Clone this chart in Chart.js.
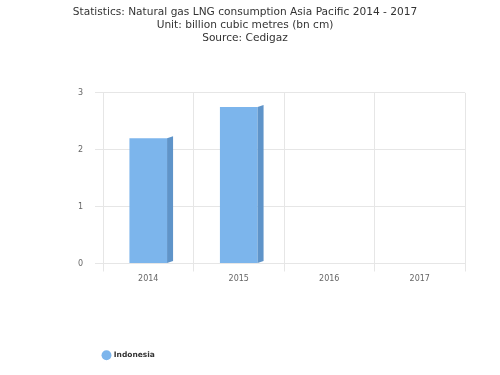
<!DOCTYPE html>
<html>
<head>
<meta charset="utf-8">
<script src="https://cdn.jsdelivr.net/npm/chart.js@4"></script>
<style>
  html, body { margin: 0; padding: 0; background: #fff; }
  #wrap { width: 500px; height: 375px; }
</style>
</head>
<body>
<div id="wrap"><canvas id="chart"></canvas></div>
<script>
// data
const years = ['2014', '2015', '2016', '2017'];
const indonesia = [2.2, 2.75, 0, 0];
const yTicks = [0, 1, 2, 3];
const titleLines = [
    'Statistics: Natural gas LNG consumption Asia Pacific 2014 - 2017',
    'Unit: billion cubic metres (bn cm)',
    'Source: Cedigaz'
];

// darker right face, so the bars look a bit like the 3d ones
const sideFace = {
    id: 'sideFace',
    afterLayout(chart) {
        // legend sits under the plot, not at the canvas edge
        chart.legend.left += 68;
        chart.legend.right += 68;
    },
    afterDatasetsDraw(chart) {
        const ctx = chart.ctx;
        const meta = chart.getDatasetMeta(0);
        ctx.save();
        meta.data.forEach(bar => {
            const right = bar.x + bar.width / 2;
            const d = 6;
            ctx.fillStyle = '#5f94c9';
            ctx.beginPath();
            ctx.moveTo(right, bar.y);
            ctx.lineTo(right + d, bar.y - 2);
            ctx.lineTo(right + d, bar.base - 2);
            ctx.lineTo(right, bar.base);
            ctx.closePath();
            ctx.fill();
        });
        ctx.restore();
    }
};

const ctx = document.getElementById('chart').getContext('2d');
const myChart = new Chart(ctx, {
    type: 'bar',
    data: {
        labels: years,
        datasets: [{
            label: 'Indonesia',
            data: indonesia,
            backgroundColor: '#7cb5ec',
            borderWidth: 0,
            categoryPercentage: 0.8,
            barPercentage: 0.52
        }]
    },
    options: {
        responsive: true,
        maintainAspectRatio: false,
        animation: false,
        layout: {
            padding: { top: 4, left: 25, right: 35, bottom: 6 }
        },
        plugins: {
            title: {
                display: true,
                text: titleLines,
                color: '#333333',
                font: { family: 'DejaVu Sans', size: 10.6, weight: 'normal', lineHeight: 1.22 },
                padding: { top: 2, bottom: 48 }
            },
            legend: {
                position: 'bottom',
                align: 'start',
                labels: {
                    usePointStyle: true,
                    pointStyle: 'circle',
                    boxWidth: 7,
                    boxHeight: 7,
                    color: '#333333',
                    font: { family: 'DejaVu Sans', size: 7.5, weight: 'bold' },
                    padding: 10
                }
            },
            tooltip: { enabled: false }
        },
        scales: {
            x: {
                afterFit: axis => { axis.height = 78; },
                grid: { color: '#e6e6e6', offset: true },
                border: { color: '#e6e6e6' },
                ticks: { color: '#666666', font: { family: 'DejaVu Sans', size: 8 } }
            },
            y: {
                min: 0,
                max: 3,
                afterBuildTicks: axis => { axis.ticks = yTicks.map(v => ({ value: v })); },
                afterFit: axis => { axis.width = 78; },
                grid: { color: '#e6e6e6' },
                border: { display: false },
                ticks: { color: '#666666', padding: 12, font: { family: 'DejaVu Sans', size: 8 } }
            }
        }
    },
    plugins: [sideFace]
});
</script>
</body>
</html>
